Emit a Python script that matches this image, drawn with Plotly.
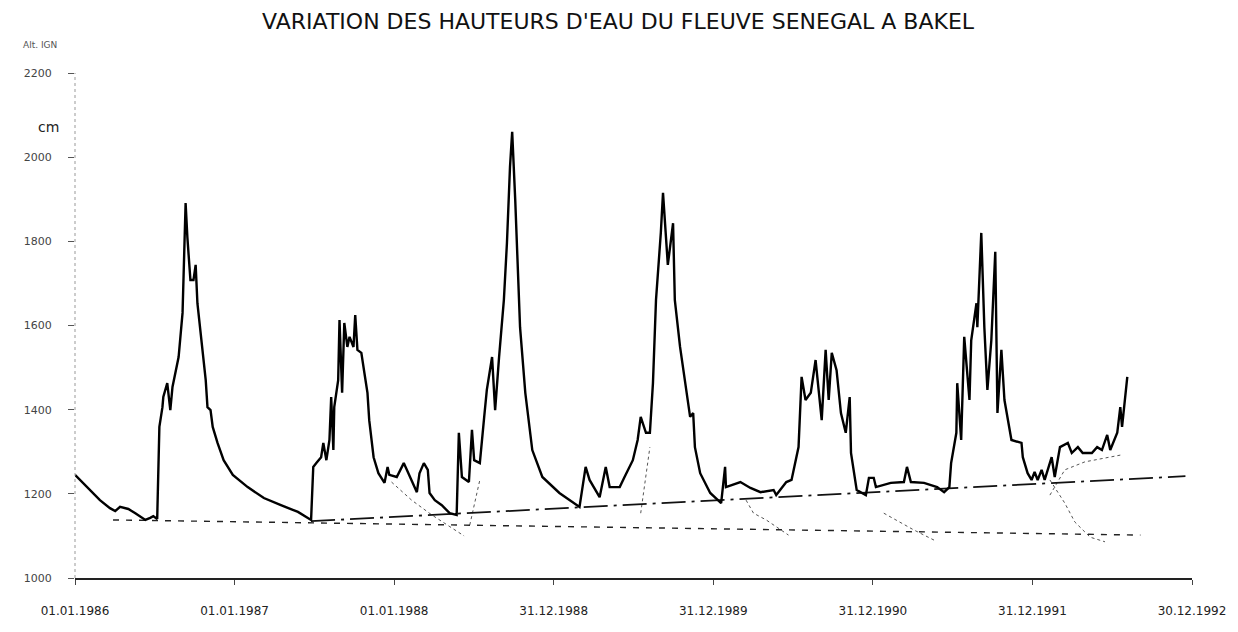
import plotly.graph_objects as go
import pandas as pd

START = "1986-01-01"

# Main series: day offset from 01.01.1986, water height (cm, IGN)
main_days = [0, 23, 57, 80, 92, 103, 122, 138, 161, 172, 179, 188,
             193, 200, 202, 211, 214, 218, 223, 237, 246, 248, 253, 257, 264, 271, 276, 280, 287, 299, 303, 310, 315, 326, 340, 361, 395, 432, 471, 510, 540,
             545, 552, 563, 568, 575, 582, 586, 591, 593, 602, 605, 611, 616, 623, 628, 637, 641, 646, 655, 662, 669, 673, 683, 694, 708, 715, 719, 736, 752, 759, 770, 782, 788, 798, 807, 811, 823, 839, 857,
             873, 878, 885, 901, 908, 913, 926, 936, 942, 954, 961, 970, 981, 988, 995, 1000, 1007, 1018, 1030, 1046, 1069, 1108, 1154,
             1168, 1177, 1200, 1214, 1223, 1246, 1257, 1276, 1287, 1294, 1306, 1315, 1322, 1329, 1340, 1345, 1356, 1368, 1372, 1384, 1407, 1414, 1418, 1430, 1453, 1478,
             1487, 1489, 1522, 1545, 1568, 1598, 1604, 1627, 1639, 1648, 1655, 1662, 1671, 1683, 1694, 1708, 1717, 1724, 1731, 1742, 1752, 1763, 1772, 1775, 1788, 1809,
             1816, 1827, 1832, 1866, 1896, 1903, 1912, 1942, 1972, 1988, 2000, 2004, 2016, 2018, 2027, 2034, 2046, 2050, 2062, 2064, 2069, 2073, 2080, 2087, 2096, 2105, 2110, 2119, 2126, 2142,
             2165, 2168, 2179, 2188, 2195, 2202, 2211, 2218, 2234, 2241, 2253, 2271, 2280, 2294, 2305, 2326, 2338, 2349, 2361, 2368, 2384, 2391, 2395, 2407]
main_vals = [1245, 1221, 1185, 1166, 1159, 1169, 1164, 1154, 1138, 1143, 1147, 1140,
             1359, 1406, 1430, 1463, 1430, 1399, 1454, 1525, 1630, 1708, 1891, 1810, 1708, 1708, 1744, 1653, 1589, 1470, 1406, 1399, 1359, 1321, 1280, 1245, 1216, 1190, 1173, 1157, 1138,
             1264, 1273, 1287, 1321, 1280, 1328, 1430, 1304, 1406, 1470, 1613, 1440, 1606, 1549, 1573, 1549, 1625, 1542, 1535, 1487, 1440, 1375, 1287, 1249, 1226, 1264, 1245, 1240, 1273, 1257, 1233, 1204, 1249, 1273, 1257, 1202, 1185, 1173, 1154,
             1150, 1345, 1240, 1228, 1352, 1280, 1273, 1383, 1447, 1525, 1399, 1525, 1661, 1796, 1977, 2060, 1898, 1596, 1440, 1304, 1240, 1202, 1169,
             1264, 1233, 1192, 1264, 1216, 1216, 1240, 1280, 1328, 1383, 1345, 1345, 1463, 1661, 1820, 1915, 1744, 1843, 1661, 1549, 1383, 1392, 1311, 1249, 1202, 1178,
             1264, 1216, 1228, 1214, 1204, 1209, 1197, 1228, 1233, 1280, 1311, 1478, 1423, 1440, 1518, 1375, 1542, 1423, 1535, 1494, 1392, 1345, 1430, 1297, 1209, 1197,
             1238, 1238, 1216, 1226, 1228, 1264, 1228, 1226, 1216, 1204, 1216, 1273, 1345, 1463, 1328, 1573, 1423, 1565, 1653, 1596, 1708, 1820, 1596, 1447, 1565, 1775, 1392, 1542, 1423, 1328,
             1321, 1287, 1249, 1233, 1252, 1233, 1257, 1233, 1287, 1240, 1311, 1321, 1297, 1311, 1297, 1297, 1311, 1304, 1340, 1304, 1345, 1406, 1359, 1478]

# Trend lines of low water
upper_days = [540, 2540]
upper_vals = [1135, 1242]
lower_days = [87, 2437]
lower_vals = [1138, 1102]

# Dotted recession curves (dry seasons)
rec_groups = [
    ([724, 770, 816, 862, 890], [1228, 1185, 1150, 1119, 1100]),
    ([903, 926], [1126, 1233]),
    ([1294, 1315], [1154, 1311]),
    ([1535, 1552, 1581, 1614, 1632], [1185, 1154, 1138, 1114, 1102]),
    ([1850, 1919, 1965], [1154, 1114, 1090]),
    ([2230, 2264, 2287, 2322, 2356], [1233, 1178, 1133, 1097, 1086]),
    ([2230, 2264, 2310, 2356, 2391], [1197, 1257, 1276, 1285, 1292]),
]

tick_dates = ["1986-01-01", "1987-01-01", "1988-01-01", "1988-12-31", "1989-12-31", "1990-12-31", "1991-12-31", "1992-12-30"]
tick_text = ["01.01.1986", "01.01.1987", "01.01.1988", "31.12.1988", "31.12.1989", "31.12.1990", "31.12.1991", "30.12.1992"]
y_ticks = [1000, 1200, 1400, 1600, 1800, 2000, 2200]

start = pd.Timestamp(START)
def to_dates(days):
    return [start + pd.Timedelta(days=d) for d in days]

fig = go.Figure()
for d, v in rec_groups:
    fig.add_trace(go.Scatter(x=to_dates(d), y=v, mode="lines",
                             line=dict(color="#555555", width=1, dash="dot")))
fig.add_trace(go.Scatter(x=to_dates(lower_days), y=lower_vals, mode="lines",
                         line=dict(color="#222222", width=1.4, dash="6px,7px")))
fig.add_trace(go.Scatter(x=to_dates(upper_days), y=upper_vals, mode="lines",
                         line=dict(color="#111111", width=1.8, dash="24px,6px,3px,6px")))
fig.add_trace(go.Scatter(x=to_dates(main_days), y=main_vals, mode="lines",
                         line=dict(color="#000000", width=2.4)))

fig.update_layout(
    width=1230, height=624,
    margin=dict(l=67, r=43, t=65, b=54),
    paper_bgcolor="white", plot_bgcolor="white",
    showlegend=False,
    font=dict(family="DejaVu Sans, Arial, sans-serif", color="#222222"),
    title=dict(text="VARIATION DES HAUTEURS D'EAU DU FLEUVE SENEGAL A BAKEL",
               x=0.496, xanchor="center", y=0.978, yanchor="middle",
               font=dict(size=22, color="#111111")),
)
fig.update_xaxes(
    type="date", range=[tick_dates[0], tick_dates[-1]],
    tickvals=tick_dates, ticktext=tick_text,
    showgrid=False, zeroline=False,
    showline=True, linecolor="#222222", linewidth=1.5,
    ticks="outside", ticklen=5, tickcolor="#444444",
    ticklabelstandoff=16,
    tickfont=dict(size=12, color="#222222"),
)
fig.update_yaxes(
    range=[1000, 2200], tickvals=y_ticks,
    showgrid=False, zeroline=False, showline=False,
    ticks="outside", ticklen=6, tickcolor="#555555",
    ticklabelstandoff=14,
    tickfont=dict(size=11, color="#444444"),
)
fig.add_shape(type="line", xref="paper", yref="paper", x0=0, x1=0, y0=0, y1=1,
              line=dict(color="#999999", width=1, dash="dot"))
fig.add_annotation(text="Alt. IGN", xref="paper", yref="paper", x=-0.031, y=1.055,
                   xanchor="center", yanchor="middle", showarrow=False,
                   font=dict(size=9, color="#555555"))
fig.add_annotation(text="cm", xref="paper", yref="y", x=-0.024, y=2072,
                   xanchor="center", yanchor="middle", showarrow=False,
                   font=dict(size=14, color="#222222"))

fig.write_html("out.html")
